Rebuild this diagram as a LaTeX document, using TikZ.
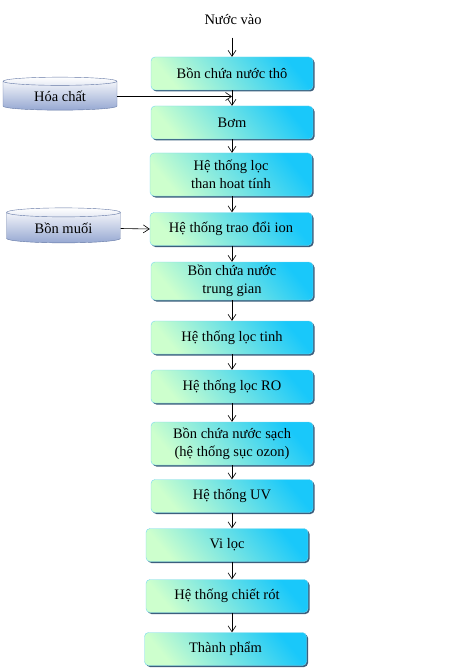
\documentclass[tikz,border=0pt]{standalone}
\usepackage{fontspec}
\setmainfont{Liberation Serif}
\usetikzlibrary{shapes.geometric,arrows.meta,shadows}

\definecolor{boxcyan}{RGB}{25,200,250}
\definecolor{boxgreen}{RGB}{205,255,205}
\definecolor{boxline}{RGB}{120,215,240}
\definecolor{shadowblue}{RGB}{60,95,125}
\definecolor{tankline}{RGB}{100,120,165}
\definecolor{tankbottom}{RGB}{150,168,210}

\begin{document}
\begin{tikzpicture}[
x=1pt, y=-1pt,
font=\fontsize{14.5}{18}\selectfont,
stagebox/.style={
draw=boxline,
rounded corners=4pt,
top color=boxcyan,
bottom color=boxgreen,
shading angle=-50,
drop shadow={shadow xshift=1.5pt, shadow yshift=-1.5pt, fill=shadowblue, opacity=1},
minimum width=162pt,
minimum height=33pt,
inner sep=2pt,
align=center
},
tank/.style={
cylinder,
shape border rotate=90,
aspect=0.14,
draw=tankline,
top color=white,
bottom color=tankbottom,
minimum width=114pt,
minimum height=33pt
},
flow/.style={-{Straight Barb[length=6pt,width=8pt]}, semithick}
]
\useasboundingbox (0,0) rectangle (457,671);

% -------- Input --------
\node (nuocvao) at (233,20) {Nước vào};

% -------- Main line --------
\node[stagebox] (b1) at (232,73.5) {Bồn chứa nước thô};
\node[stagebox] (b2) at (232,122.5) {Bơm};
\node[stagebox, minimum height=43pt] (b3) at (231,174.5)
{Hệ thống lọc\\than hoat tính};
\node[stagebox] (b4) at (231,229) {Hệ thống trao đổi ion};
\node[stagebox, minimum height=38pt] (b5) at (232,281)
{Bồn chứa nước\\trung gian};
\node[stagebox] (b6) at (232,337.5) {Hệ thống lọc tinh};
\node[stagebox] (b7) at (232,386.5) {Hệ thống lọc RO};
\node[stagebox, minimum height=43pt] (b8) at (232,443.5)
{Bồn chứa nước sạch\\(hệ thống sục ozon)};
\node[stagebox] (b9) at (232,496) {Hệ thống UV};
\node[stagebox] (b10) at (227,545) {Vi lọc};
\node[stagebox] (b11) at (227,596) {Hệ thống chiết rót};
\node[stagebox] (b12) at (225.5,649) {Thành phẩm};

% -------- Side tanks --------
\node[tank] (hoachat) at (60,96.5) {Hóa chất};
\node[tank, minimum height=35pt] (bonmuoi) at (63.5,228.5) {Bồn muối};

% -------- Arrows --------
\draw[flow, shorten <=9pt] (b1.north |- nuocvao.south) -- (b1.north);
\draw[flow] (b1.south) -- (b1.south |- b2.north);
\draw[flow] (hoachat.east) -- (b1.south |- hoachat.east);
\draw[flow] (b2.south) -- (b2.south |- b3.north);
\draw[flow] (b2.south |- b3.south) -- (b2.south |- b4.north);
\draw[flow] (bonmuoi.east) -- (b4.west);
\draw[flow] (b2.south |- b4.south) -- (b2.south |- b5.north);
\draw[flow] (b5.south) -- (b5.south |- b6.north);
\draw[flow] (b6.south) -- (b6.south |- b7.north);
\draw[flow] (b7.south) -- (b7.south |- b8.north);
\draw[flow] (b8.south) -- (b8.south |- b9.north);
\draw[flow] (b9.south) -- (b9.south |- b10.north);
\draw[flow] (b9.south |- b10.south) -- (b9.south |- b11.north);
\draw[flow] (b9.south |- b11.south) -- (b9.south |- b12.north);

\end{tikzpicture}
\end{document}
